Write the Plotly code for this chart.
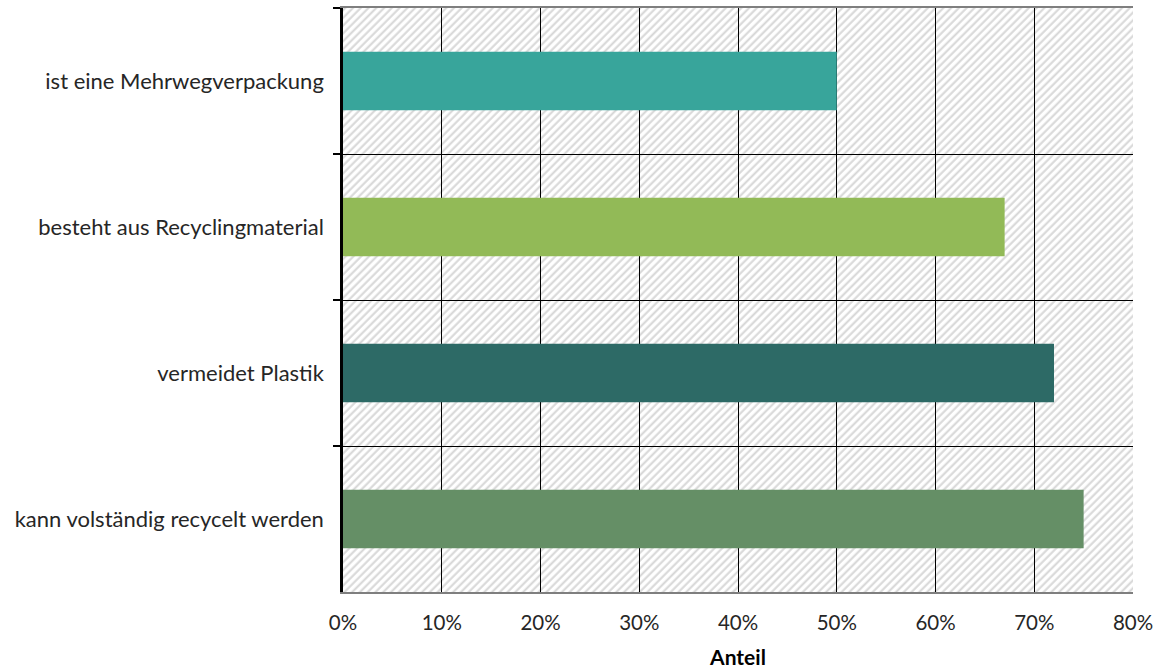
import base64
import plotly.graph_objects as go

categories = ["ist eine Mehrwegverpackung", "besteht aus Recyclingmaterial",
              "vermeidet Plastik", "kann volständig recycelt werden"]
values = [50, 67, 72, 75]
colors = ["#38A59B", "#92BA57", "#2D6A66", "#658F66"]
x_ticks = [0, 10, 20, 30, 40, 50, 60, 70, 80]
x_ticklabels = [f"{v}%" for v in x_ticks]

FONT = "Lato"

svg = (
    '<svg xmlns="http://www.w3.org/2000/svg" width="791" height="584" viewBox="0 0 791 584" '
    'preserveAspectRatio="none">'
    '<defs><pattern id="h" patternUnits="userSpaceOnUse" width="5.5" height="5.5" '
    'patternTransform="rotate(45)">'
    '<rect width="5.5" height="5.5" fill="#ffffff"/>'
    '<line x1="1.5" y1="0" x2="1.5" y2="5.5" stroke="#d6d6d6" stroke-width="2"/>'
    '</pattern></defs>'
    '<rect width="791" height="584" fill="url(#h)"/></svg>'
)
uri = "data:image/svg+xml;base64," + base64.b64encode(svg.encode()).decode()

fig = go.Figure()
fig.add_trace(go.Bar(
    x=values, y=categories, orientation="h",
    marker=dict(color=colors, line=dict(width=0)),
    hoverinfo="skip",
))

fig.add_layout_image(dict(
    source=uri, xref="x domain", yref="y domain", x=0, y=1,
    sizex=1, sizey=1, xanchor="left", yanchor="top",
    sizing="stretch", layer="below",
))

fig.update_layout(
    width=1161, height=669,
    margin=dict(l=343, r=28, t=8, b=77),
    paper_bgcolor="white",
    plot_bgcolor="rgba(0,0,0,0)",
    bargap=0.6,
    showlegend=False,
    font=dict(family=FONT, size=21, color="#262626"),
    xaxis=dict(
        range=[0, 80], tickvals=x_ticks, ticktext=x_ticklabels,
        showgrid=True, gridcolor="#000000", gridwidth=1,
        showline=True, linecolor="#7f7f7f", linewidth=1.5, mirror=True,
        ticks="", ticklabelstandoff=12, automargin=False,
        tickfont=dict(family=FONT, size=20.5, color="#262626"),
        zeroline=False,
        title=dict(text="<b>Anteil</b>", font=dict(family=FONT, size=21, color="#000000"),
                   standoff=17),
    ),
    yaxis=dict(
        type="category", autorange="reversed",
        tickson="boundaries", automargin=False,
        showgrid=True, gridcolor="#000000", gridwidth=1,
        showline=True, linecolor="#000000", linewidth=2.5,
        ticks="outside", ticklen=7, tickcolor="#000000", tickwidth=1.5,
        ticklabelstandoff=12,
        tickfont=dict(family=FONT, size=22, color="#262626"),
    ),
)

fig.write_html("out.html")
